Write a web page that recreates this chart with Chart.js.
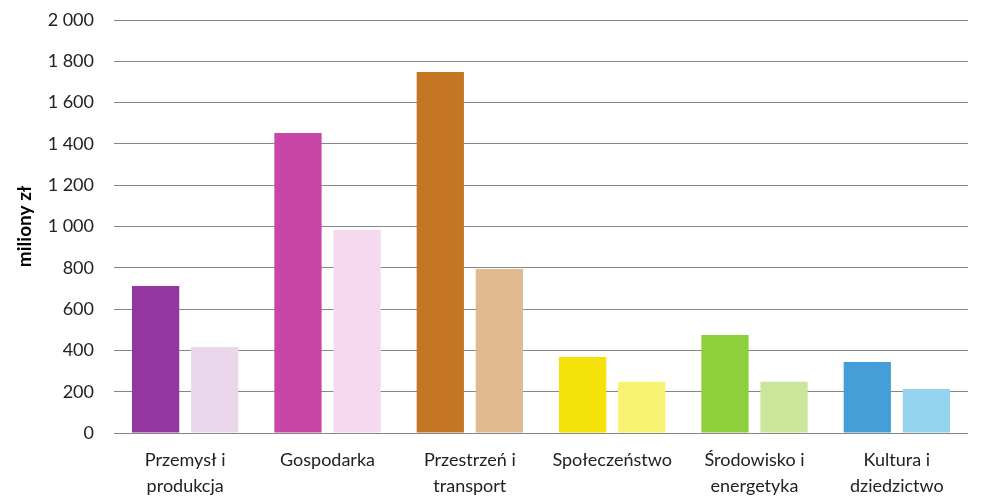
<!DOCTYPE html>
<html>
<head>
<meta charset="utf-8">
<script src="https://cdn.jsdelivr.net/npm/chart.js@4/dist/chart.umd.min.js"></script>
<style>
  body { margin: 0; background: #fff; }
  #wrap { width: 983px; height: 501px; }
</style>
</head>
<body>
<div id="wrap"><canvas id="chart" width="983" height="501"></canvas></div>
<script>
const categories = [
  ["Przemysł i", "produkcja"],
  ["Gospodarka"],
  ["Przestrzeń i", "transport"],
  ["Społeczeństwo"],
  ["Środowisko i", "energetyka"],
  ["Kultura i", "dziedzictwo"]
];
const seriesA = [712, 1453, 1748, 368, 475, 344];
const seriesB = [416, 983, 794, 248, 248, 213];
const colorsA = ["#93369f", "#c945a8", "#c47622", "#f5e10a", "#8ecf3c", "#469ed9"];
const colorsB = ["#ead7ec", "#f6d9ee", "#e1b98f", "#f8f272", "#c9e69a", "#94d4ef"];
const yTicks = [0, 200, 400, 600, 800, 1000, 1200, 1400, 1600, 1800, 2000];

const fmt = v => String(v).replace(/\B(?=(\d{3})+(?!\d))/g, " ");
const fontFamily = "Lato, 'Open Sans', sans-serif";

new Chart(document.getElementById("chart"), {
  type: "bar",
  data: {
    labels: categories,
    datasets: [
      { data: seriesA, backgroundColor: colorsA, borderWidth: 0 },
      { data: seriesB, backgroundColor: colorsB, borderWidth: 0 }
    ]
  },
  options: {
    responsive: false,
    animation: false,
    categoryPercentage: 0.83,
    barPercentage: 0.8,
    layout: { padding: { top: 20, right: 15, left: 0, bottom: 0 } },
    plugins: { legend: { display: false }, tooltip: { enabled: false } },
    scales: {
      x: {
        grid: { display: false },
        border: { display: false },
        ticks: { color: "#222", padding: 7, maxRotation: 0, autoSkip: false,
          font: { family: fontFamily, size: 18, lineHeight: 1.4 } },
        afterFit: s => { s.height = 68; }
      },
      y: {
        min: 0,
        max: 2000,
        afterBuildTicks: s => { s.ticks = yTicks.map(v => ({ value: v })); },
        grid: { color: "#868686", lineWidth: 1, drawTicks: false },
        border: { display: false },
        ticks: { color: "#222", padding: 20, callback: v => fmt(v),
          font: { family: fontFamily, size: 18 } },
        title: { display: true, text: "miliony zł", color: "#000",
          padding: { top: 13, bottom: 0 },
          font: { family: fontFamily, size: 19, weight: "bold" } },
        afterFit: s => { s.width = 114; s.paddingTop = 0; s.paddingBottom = 0; }
      }
    }
  }
});
</script>
</body>
</html>
